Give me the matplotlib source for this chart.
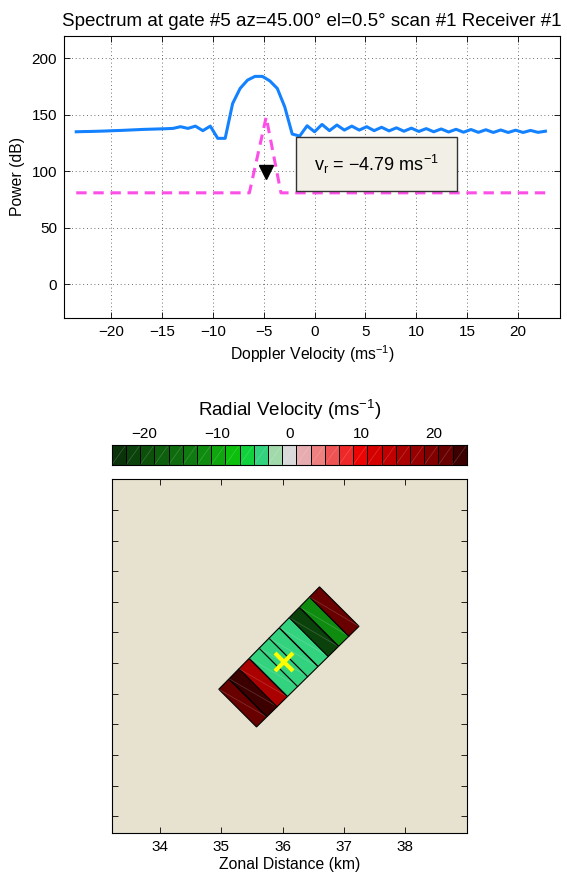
import numpy as np
import matplotlib
matplotlib.use('Agg')
import matplotlib.pyplot as plt
from matplotlib.patches import Polygon, Rectangle
from matplotlib.colors import ListedColormap, BoundaryNorm

plt.rcParams['font.family'] = ['Liberation Sans', 'DejaVu Sans']
plt.rcParams['mathtext.fontset'] = 'custom'
plt.rcParams['mathtext.rm'] = 'Liberation Sans'
plt.rcParams['mathtext.it'] = 'Liberation Sans:italic'
plt.rcParams['axes.unicode_minus'] = True

# ---------------- data ----------------
title_text = "Spectrum at gate #5 az=45.00\u00b0 el=0.5\u00b0 scan #1 Receiver #1"
n_bins = 64
vel_first, vel_last = -23.40, 22.67
spectrum_power = [135.0, 135.2, 135.3, 135.5, 135.7, 136.0, 136.2, 136.5, 136.8, 137.1,
                  137.3, 137.5, 137.7, 138.0, 139.5, 138.0, 140.0, 136.0, 140.0, 129.2,
                  129.2, 160.0, 173.3, 180.7, 184.0, 184.0, 180.0, 173.3, 157.0, 133.0,
                  131.2, 140.3, 135.0, 141.5, 136.0, 141.0, 136.5, 140.0, 136.5, 139.5,
                  136.0, 139.0, 135.8, 138.5, 135.5, 138.2, 135.3, 137.8, 135.0, 137.5,
                  134.8, 137.2, 134.6, 137.0, 134.5, 136.8, 134.4, 136.6, 134.4, 136.4,
                  134.4, 136.2, 134.5, 135.5]
model_vel = [-23.40, -6.40, -4.75, -3.30, 22.67]
model_power = [81.0, 81.0, 148.0, 81.0, 81.0]
vr_est = -4.79
vr_marker_power = 99.0

vel_ticks = [-20, -15, -10, -5, 0, 5, 10, 15, 20]
pow_ticks = [0, 50, 100, 150, 200]

cbar_colors = ['#0a330a', '#0b420b', '#0c500c', '#0d5e0d', '#0e6c0e', '#0f7a0f',
               '#0f8c0f', '#0ea50e', '#0cbf0c', '#10d03c', '#33d27e', '#a2d9ab',
               '#d9d9d9',
               '#e6acb0', '#ee8080', '#ee5252', '#ee2828', '#ec0404', '#d40000',
               '#c00000', '#aa0000', '#960000', '#800000', '#680000', '#3c0000']
clim = 24.5
cbar_ticks = [-20, -10, 0, 10, 20]

azimuth_deg = 45.0
beamwidth_deg = 1.0
gate_spacing_km = 0.234
gate_center_km = [49.99, 50.23, 50.46, 50.70, 50.93, 51.16, 51.40, 51.63, 51.87, 52.10]
gate_velocity = [21.5, 23.0, 15.6, -4.2, -4.79, -3.9, -4.4, -22.0, -11.3, 21.5]
selected_gate = 4
map_lim = (33.22, 39.0)
map_xticks = [34, 35, 36, 37, 38]
map_yticks = [33.5, 34.0, 34.5, 35.0, 35.5, 36.0, 36.5, 37.0, 37.5, 38.0, 38.5]

# ---------------- figure ----------------
W, H = 567, 877
fig = plt.figure(figsize=(W / 100, H / 100), dpi=100)
TICK_FS = 11
LABEL_FS = 11.3

# ---- spectrum panel ----
ax1 = fig.add_axes([64 / W, 1 - 318.3 / H, 496 / W, 282.6 / H])
vel = np.linspace(vel_first, vel_last, n_bins)
ax1.plot(vel, spectrum_power, color='#1482ff', lw=2.2, zorder=3)
ax1.plot(model_vel, model_power, color='#fb4fe6', lw=2.2, dashes=(3.4, 2.2), zorder=3)
ax1.plot([vr_est], [vr_marker_power], marker='v', color='black', ms=10, ls='none', zorder=4)
ax1.set_xlim(-24.6, 24.1)
ax1.set_ylim(-30, 220)
ax1.set_xticks(vel_ticks)
ax1.set_yticks(pow_ticks)
ax1.tick_params(direction='in', top=True, right=True, length=4, width=0.6,
                labelsize=TICK_FS, pad=5)
ax1.grid(True, linestyle=(0, (1, 3.5)), color='0.25', linewidth=0.6)
for s in ax1.spines.values():
    s.set_linewidth(0.8)
ax1.set_title(title_text, fontsize=13.5, pad=7)
ax1.set_xlabel('Doppler Velocity ($\\mathregular{ms^{-1}}$)', fontsize=LABEL_FS, labelpad=3)
ax1.set_ylabel('Power (dB)', fontsize=LABEL_FS, labelpad=5)

box = Rectangle((0.4677, 0.4494), 0.324, 0.1932, transform=ax1.transAxes,
                facecolor='#f2f0e6', edgecolor='#333333', lw=1.0, zorder=5)
ax1.add_patch(box)
ax1.text(0.6297, 0.546,
         '$\\mathregular{v_r}$ = \u2212%.2f $\\mathregular{ms^{-1}}$' % abs(vr_est),
         transform=ax1.transAxes, ha='center', va='center', fontsize=13, zorder=6)

# ---- colorbar ----
cmap = ListedColormap(cbar_colors)
edges = np.linspace(-clim, clim, len(cbar_colors) + 1)
norm = BoundaryNorm(edges, cmap.N)
cax = fig.add_axes([111.7 / W, 1 - 465 / H, 355 / W, 20 / H])
cax.pcolormesh(edges, [0, 1], np.array([(edges[:-1] + edges[1:]) / 2]), cmap=cmap, norm=norm,
               edgecolors='black', linewidth=0.6)
for i in range(len(cbar_colors)):
    cax.plot([edges[i], edges[i + 1]], [0, 1], color='white', alpha=0.2, lw=0.5)
cax.set_xlim(-clim, clim)
cax.set_ylim(0, 1)
cax.set_yticks([])
cax.set_xticks(cbar_ticks)
cax.xaxis.set_ticks_position('top')
cax.tick_params(axis='x', length=0, labelsize=TICK_FS, pad=3)
cax.set_title('Radial Velocity ($\\mathregular{ms^{-1}}$)', fontsize=13.5, pad=21)

# ---- map panel ----
ax2 = fig.add_axes([112.3 / W, 1 - 833.3 / H, 354.4 / W, 354 / H])
ax2.set_facecolor('#e7e2cf')
az = np.deg2rad(azimuth_deg)
hb = np.deg2rad(beamwidth_deg / 2)
for rc, v in zip(gate_center_km, gate_velocity):
    r0, r1 = rc - gate_spacing_km / 2, rc + gate_spacing_km / 2
    pts = [(r0, az - hb), (r1, az - hb), (r1, az + hb), (r0, az + hb)]
    xy = [(r * np.sin(a), r * np.cos(a)) for r, a in pts]
    col = cmap(norm(v))
    ax2.add_patch(Polygon(xy, closed=True, facecolor=col, edgecolor='black', lw=0.8, zorder=2))
    ax2.plot([xy[0][0], xy[2][0]], [xy[0][1], xy[2][1]], color='white', alpha=0.2, lw=0.5, zorder=2)
rsel = gate_center_km[selected_gate]
ax2.plot([rsel * np.sin(az)], [rsel * np.cos(az)], marker='x', color='#ffff00', ms=13, mew=3,
         ls='none', zorder=4)
ax2.set_xlim(*map_lim)
ax2.set_ylim(*map_lim)
ax2.set_xticks(map_xticks)
ax2.set_yticks(map_yticks)
ax2.set_yticklabels([])
ax2.tick_params(direction='in', top=True, right=True, length=4, width=0.6,
                labelsize=TICK_FS, pad=5)
for s in ax2.spines.values():
    s.set_linewidth(0.8)
ax2.set_xlabel('Zonal Distance (km)', fontsize=LABEL_FS, labelpad=2)

fig.savefig('out.png', dpi=100)
